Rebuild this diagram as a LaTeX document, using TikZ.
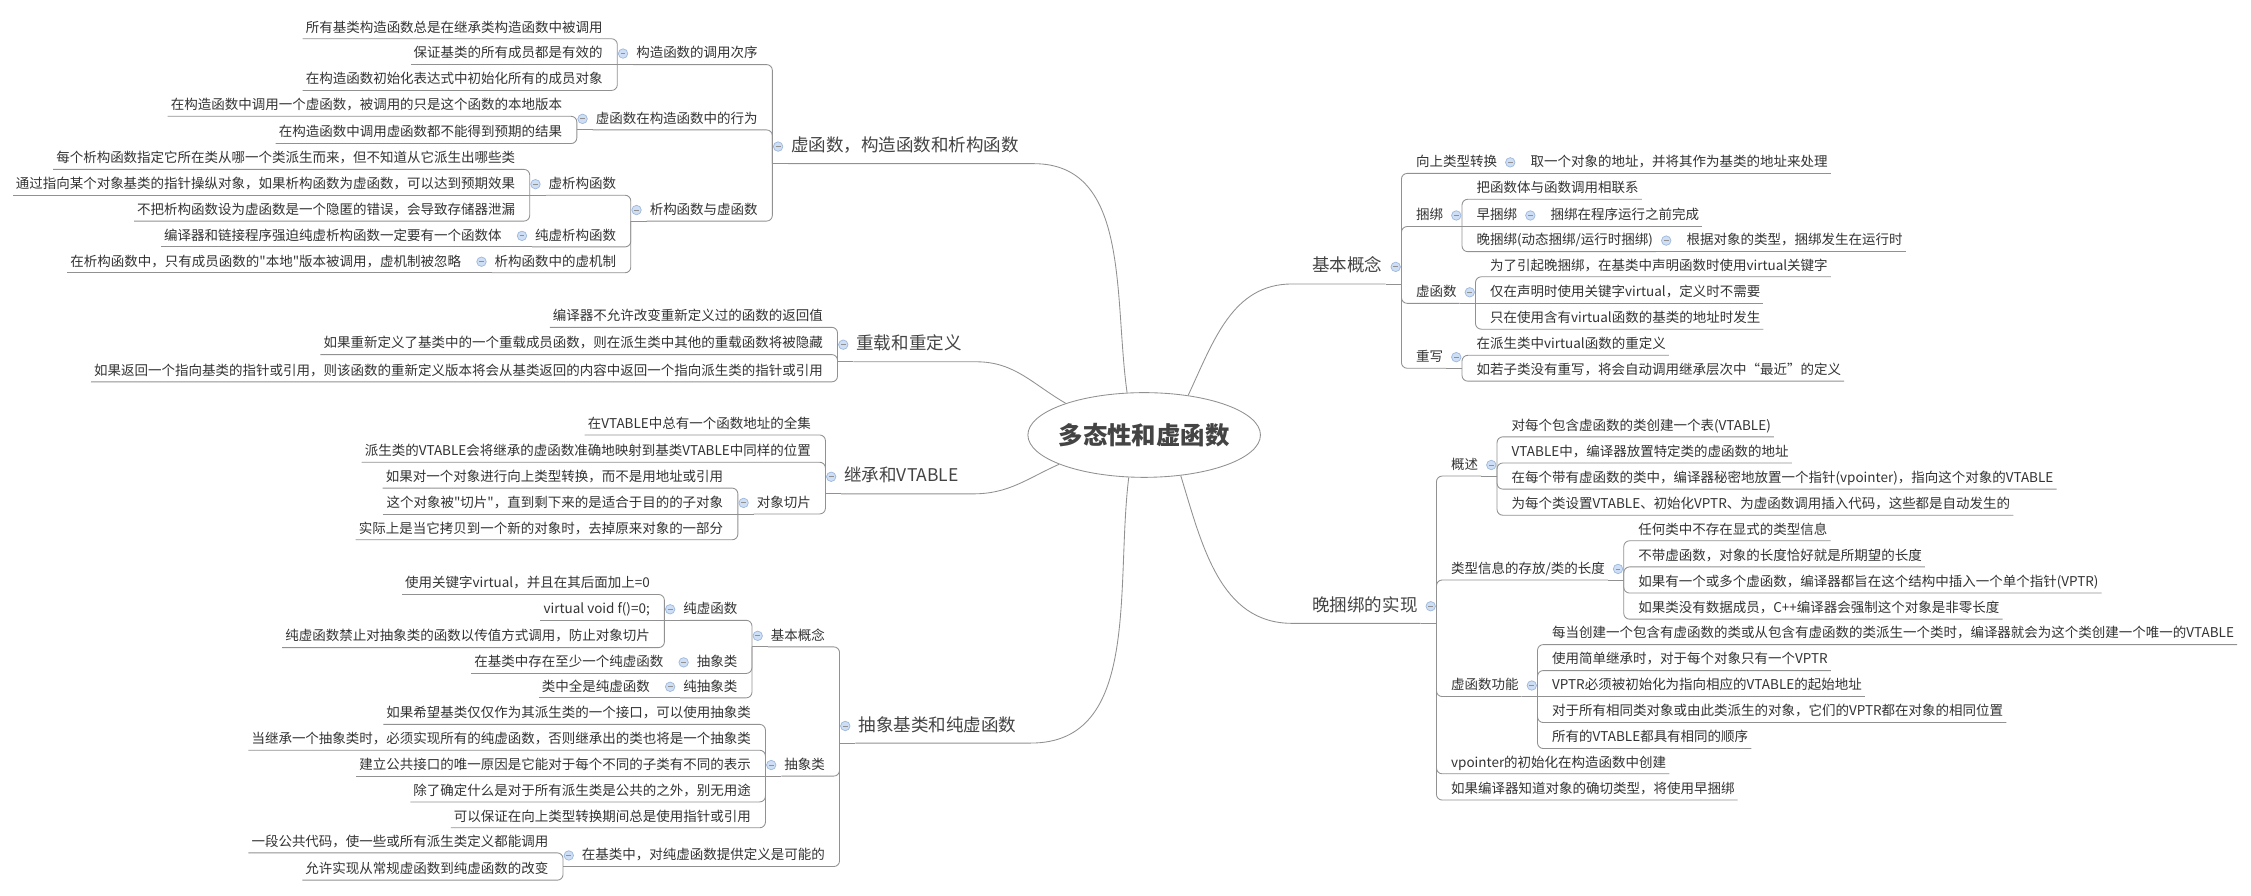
\documentclass[tikz,border=0pt]{standalone}
\usepackage{fontspec}
\setmainfont{Noto Sans CJK SC}[Ligatures=TeXOff]
\usepackage{xcolor}
\usepackage{tikz}
\usetikzlibrary{positioning,calc,shapes.geometric}

\definecolor{linecol}{RGB}{145,145,145}
\definecolor{txtcol}{RGB}{51,51,51}
\definecolor{maincol}{RGB}{68,68,68}
\definecolor{foldfill}{RGB}{205,222,245}
\definecolor{foldline}{RGB}{160,185,220}

\begin{document}
\begin{tikzpicture}[x=1pt,y=1pt,
					topic/.style={font=\fontsize{9.4}{11}\selectfont, text=txtcol,
						text height=8pt, text depth=2pt, inner xsep=2pt, inner ysep=2.5pt},
					lt/.style={topic, anchor=south east},
					rt/.style={topic, anchor=south west},
					mainbranch/.style={font=\fontsize{12.2}{14}\selectfont, text=maincol,
						text height=10pt, text depth=3pt, inner xsep=2pt, inner ysep=5.2pt},
					ml/.style={mainbranch, anchor=south east},
					mr/.style={mainbranch, anchor=south west},
					link/.style={draw=linecol, line width=0.6pt, rounded corners=4pt},
					branch/.style={draw=linecol, line width=0.6pt},
					fold/.style={circle, draw=foldline, fill=foldfill, line width=0.5pt,
						minimum size=6.6pt, inner sep=0pt,
						path picture={\draw[linecol, line width=0.6pt]
							([xshift=-1.7pt]path picture bounding box.center) --
							([xshift=1.7pt]path picture bounding box.center);}}
					]
					\path[use as bounding box, fill=white] (0,0) rectangle (1568,-624);
					
					% 中心主题
					\node[draw=linecol, line width=0.6pt, ellipse, minimum width=162pt, minimum height=59pt,
						inner sep=0pt, font=\fontsize{17}{20}\selectfont\bfseries, text=maincol]
						(root) at (797,-303) {\makebox[60pt]{多态性和虚函数}};
					
					% 左侧：虚函数，构造函数和析构函数
					\node[ml] (vf) at (712,-114) {虚函数，构造函数和析构函数};
					\node[lt] (vfA) at ($(vf.south west)+(-19,69)$) {构造函数的调用次序};
					\node[lt] (vfA1) at ($(vfA.south west)+(-19,18)$) {所有基类构造函数总是在继承类构造函数中被调用};
					\node[lt] (vfA2) at ($(vfA.south west)+(-19,0)$) {保证基类的所有成员都是有效的};
					\node[lt] (vfA3) at ($(vfA.south west)+(-19,-18)$) {在构造函数初始化表达式中初始化所有的成员对象};
					\node[lt] (vfB) at ($(vf.south west)+(-19,23.5)$) {虚函数在构造函数中的行为};
					\node[lt] (vfB1) at ($(vfB.south west)+(-19,9.5)$) {在构造函数中调用一个虚函数，被调用的只是这个函数的本地版本};
					\node[lt] (vfB2) at ($(vfB.south west)+(-19,-9.5)$) {在构造函数中调用虚函数都不能得到预期的结果};
					\node[lt] (vfC) at ($(vf.south west)+(-19,-40)$) {析构函数与虚函数};
					\node[lt] (vfC1) at ($(vfC.south west)+(-19,18)$) {虚析构函数};
					\node[lt] (vfC1a) at ($(vfC1.south west)+(-19,18)$) {每个析构函数指定它所在类从哪一个类派生而来，但不知道从它派生出哪些类};
					\node[lt] (vfC1b) at ($(vfC1.south west)+(-19,0)$) {通过指向某个对象基类的指针操纵对象，如果析构函数为虚函数，可以达到预期效果};
					\node[lt] (vfC1c) at ($(vfC1.south west)+(-19,-18)$) {不把析构函数设为虚函数是一个隐匿的错误，会导致存储器泄漏};
					\node[lt] (vfC2) at ($(vfC.south west)+(-19,-18)$) {纯虚析构函数};
					\node[lt] (vfC2a) at ($(vfC2.south west)+(-19,0)$) {编译器和链接程序强迫纯虚析构函数一定要有一个函数体};
					\node[lt] (vfC3) at ($(vfC.south west)+(-19,-36)$) {析构函数中的虚机制};
					\node[lt] (vfC3a) at ($(vfC3.south west)+(-19,0)$) {在析构函数中，只有成员函数的"本地"版本被调用，虚机制被忽略};
					
					% 左侧：重载和重定义
					\node[ml] (ov) at (672,-252) {重载和重定义};
					\node[lt] (ov1) at ($(ov.south west)+(-19,24)$) {编译器不允许改变重新定义过的函数的返回值};
					\node[lt] (ov2) at ($(ov.south west)+(-19,5)$) {如果重新定义了基类中的一个重载成员函数，则在派生类中其他的重载函数将被隐藏};
					\node[lt] (ov3) at ($(ov.south west)+(-19,-14)$) {如果返回一个指向基类的指针或引用，则该函数的重新定义版本将会从基类返回的内容中返回一个指向派生类的指针或引用};
					
					% 左侧：继承和VTABLE
					\node[ml] (vt) at (670,-344) {继承和VTABLE};
					\node[lt] (vt1) at ($(vt.south west)+(-19,41)$) {在VTABLE中总有一个函数地址的全集};
					\node[lt] (vt2) at ($(vt.south west)+(-19,22)$) {派生类的VTABLE会将继承的虚函数准确地映射到基类VTABLE中同样的位置};
					\node[lt] (vt3) at ($(vt.south west)+(-19,-14)$) {对象切片};
					\node[lt] (vt3a) at ($(vt3.south west)+(-19,18)$) {如果对一个对象进行向上类型转换，而不是用地址或引用};
					\node[lt] (vt3b) at ($(vt3.south west)+(-19,0)$) {这个对象被"切片"，直到剩下来的是适合于目的的子对象};
					\node[lt] (vt3c) at ($(vt3.south west)+(-19,-18)$) {实际上是当它拷贝到一个新的对象时，去掉原来对象的一部分};
					
					% 左侧：抽象基类和纯虚函数
					\node[ml] (ab) at (710,-517.6) {抽象基类和纯虚函数};
					\node[lt] (abA) at ($(ab.south west)+(-19,67)$) {基本概念};
					\node[lt] (abA1) at ($(abA.south west)+(-19,18.5)$) {纯虚函数};
					\node[lt] (abA1a) at ($(abA1.south west)+(-19,18)$) {使用关键字virtual，并且在其后面加上=0};
					\node[lt] (abA1b) at ($(abA1.south west)+(-19,0)$) {virtual void f()=0;};
					\node[lt] (abA1c) at ($(abA1.south west)+(-19,-19)$) {纯虚函数禁止对抽象类的函数以传值方式调用，防止对象切片};
					\node[lt] (abA2) at ($(abA.south west)+(-19,-18.5)$) {抽象类};
					\node[lt] (abA2a) at ($(abA2.south west)+(-19,0)$) {在基类中存在至少一个纯虚函数};
					\node[lt] (abA3) at ($(abA.south west)+(-19,-35.5)$) {纯抽象类};
					\node[lt] (abA3a) at ($(abA3.south west)+(-19,0)$) {类中全是纯虚函数};
					\node[lt] (abB) at ($(ab.south west)+(-19,-23)$) {抽象类};
					\node[lt] (abB1) at ($(abB.south west)+(-19,36)$) {如果希望基类仅仅作为其派生类的一个接口，可以使用抽象类};
					\node[lt] (abB2) at ($(abB.south west)+(-19,18)$) {当继承一个抽象类时，必须实现所有的纯虚函数，否则继承出的类也将是一个抽象类};
					\node[lt] (abB3) at ($(abB.south west)+(-19,0)$) {建立公共接口的唯一原因是它能对于每个不同的子类有不同的表示};
					\node[lt] (abB4) at ($(abB.south west)+(-19,-18)$) {除了确定什么是对于所有派生类是公共的之外，别无用途};
					\node[lt] (abB5) at ($(abB.south west)+(-19,-36)$) {可以保证在向上类型转换期间总是使用指针或引用};
					\node[lt] (abC) at ($(ab.south west)+(-19,-86)$) {在基类中，对纯虚函数提供定义是可能的};
					\node[lt] (abC1) at ($(abC.south west)+(-19,9.5)$) {一段公共代码，使一些或所有派生类定义都能调用};
					\node[lt] (abC2) at ($(abC.south west)+(-19,-9.5)$) {允许实现从常规虚函数到纯虚函数的改变};
					
					% 右侧：基本概念
					\node[mr] (bc) at (912,-197.8) {基本概念};
					\node[rt] (bcA) at ($(bc.south east)+(19,77)$) {向上类型转换};
					\node[rt] (bcA1) at ($(bcA.south east)+(19,0)$) {取一个对象的地址，并将其作为基类的地址来处理};
					\node[rt] (bcB) at ($(bc.south east)+(19,40)$) {捆绑};
					\node[rt] (bcB1) at ($(bcB.south east)+(19,19)$) {把函数体与函数调用相联系};
					\node[rt] (bcB2) at ($(bcB.south east)+(19,0)$) {早捆绑};
					\node[rt] (bcB2a) at ($(bcB2.south east)+(19,0)$) {捆绑在程序运行之前完成};
					\node[rt] (bcB3) at ($(bcB.south east)+(19,-17.5)$) {晚捆绑(动态捆绑/运行时捆绑)};
					\node[rt] (bcB3a) at ($(bcB3.south east)+(19,0)$) {根据对象的类型，捆绑发生在运行时};
					\node[rt] (bcC) at ($(bc.south east)+(19,-13.5)$) {虚函数};
					\node[rt] (bcC1) at ($(bcC.south east)+(19,18.5)$) {为了引起晚捆绑，在基类中声明函数时使用virtual关键字};
					\node[rt] (bcC2) at ($(bcC.south east)+(19,0)$) {仅在声明时使用关键字virtual，定义时不需要};
					\node[rt] (bcC3) at ($(bcC.south east)+(19,-18)$) {只在使用含有virtual函数的基类的地址时发生};
					\node[rt] (bcD) at ($(bc.south east)+(19,-58.7)$) {重写};
					\node[rt] (bcD1) at ($(bcD.south east)+(19,9)$) {在派生类中virtual函数的重定义};
					\node[rt] (bcD2) at ($(bcD.south east)+(19,-9)$) {如若子类没有重写，将会自动调用继承层次中“最近”的定义};
					
					% 右侧：晚捆绑的实现
					\node[mr] (lb) at (912,-434.2) {晚捆绑的实现};
					\node[rt] (lbA) at ($(lb.south east)+(19,102.6)$) {概述};
					\node[rt] (lbA1) at ($(lbA.south east)+(19,27.3)$) {对每个包含虚函数的类创建一个表(VTABLE)};
					\node[rt] (lbA2) at ($(lbA.south east)+(19,9.1)$) {VTABLE中，编译器放置特定类的虚函数的地址};
					\node[rt] (lbA3) at ($(lbA.south east)+(19,-9.1)$) {在每个带有虚函数的类中，编译器秘密地放置一个指针(vpointer)，指向这个对象的VTABLE};
					\node[rt] (lbA4) at ($(lbA.south east)+(19,-27.3)$) {为每个类设置VTABLE、初始化VPTR、为虚函数调用插入代码，这些都是自动发生的};
					\node[rt] (lbB) at ($(lb.south east)+(19,30.2)$) {类型信息的存放/类的长度};
					\node[rt] (lbB1) at ($(lbB.south east)+(19,27.3)$) {任何类中不存在显式的类型信息};
					\node[rt] (lbB2) at ($(lbB.south east)+(19,9.1)$) {不带虚函数，对象的长度恰好就是所期望的长度};
					\node[rt] (lbB3) at ($(lbB.south east)+(19,-9.1)$) {如果有一个或多个虚函数，编译器都旨在这个结构中插入一个单个指针(VPTR)};
					\node[rt] (lbB4) at ($(lbB.south east)+(19,-27.3)$) {如果类没有数据成员，C++编译器会强制这个对象是非零长度};
					\node[rt] (lbC) at ($(lb.south east)+(19,-51)$) {虚函数功能};
					\node[rt] (lbC1) at ($(lbC.south east)+(19,36.2)$) {每当创建一个包含有虚函数的类或从包含有虚函数的类派生一个类时，编译器就会为这个类创建一个唯一的VTABLE};
					\node[rt] (lbC2) at ($(lbC.south east)+(19,18.1)$) {使用简单继承时，对于每个对象只有一个VPTR};
					\node[rt] (lbC3) at ($(lbC.south east)+(19,0)$) {VPTR必须被初始化为指向相应的VTABLE的起始地址};
					\node[rt] (lbC4) at ($(lbC.south east)+(19,-18.1)$) {对于所有相同类对象或由此类派生的对象，它们的VPTR都在对象的相同位置};
					\node[rt] (lbC5) at ($(lbC.south east)+(19,-36.2)$) {所有的VTABLE都具有相同的顺序};
					\node[rt] (lbD) at ($(lb.south east)+(19,-104.8)$) {vpointer的初始化在构造函数中创建};
					\node[rt] (lbE) at ($(lb.south east)+(19,-123.1)$) {如果编译器知道对象的确切类型，将使用早捆绑};
					
					% 中心到主分支
					\draw[branch] (root.112) to[out=98,in=0] ($(vf.south east)+(8,0)$) -- (vf.south west);
					\draw[branch] (root.158) to[out=150,in=0] ($(ov.south east)+(8,0)$) -- (ov.south west);
					\draw[branch] (root.199) to[out=204,in=0] ($(vt.south east)+(8,0)$) -- (vt.south west);
					\draw[branch] (root.250) to[out=263,in=0] ($(ab.south east)+(8,0)$) -- (ab.south west);
					\draw[branch] (root.42) to[out=65,in=180] ($(bc.south west)+(-12,0)$) -- (bc.south east);
					\draw[branch] (root.312) to[out=287,in=180] ($(lb.south west)+(-12,0)$) -- (lb.south east);
					
					% 左侧连线
					\foreach \p/\c in {vf/vfA, vf/vfB, vf/vfC, vfA/vfA1, vfA/vfA3, vfB/vfB1, vfB/vfB2,
						vfC/vfC1, vfC/vfC2, vfC/vfC3, vfC1/vfC1a, vfC1/vfC1c, ov/ov1, ov/ov2, ov/ov3,
						vt/vt1, vt/vt2, vt/vt3, vt3/vt3a, vt3/vt3c, ab/abA, ab/abB, ab/abC,
						abA/abA1, abA/abA2, abA/abA3, abA1/abA1a, abA1/abA1c,
						abB/abB1, abB/abB2, abB/abB4, abB/abB5, abC/abC1, abC/abC2}
						\draw[link] ($(\p.south west)+(-11,0)$) |- (\c.south east) -- (\c.south west);
					\foreach \p/\c in {vfA/vfA2, vfC1/vfC1b, vfC2/vfC2a, vfC3/vfC3a, vt3/vt3b,
						abA1/abA1b, abA2/abA2a, abA3/abA3a, abB/abB3}
						\draw[link] ($(\p.south west)+(-11,0)$) -- (\c.south west);
					
					% 右侧连线
					\foreach \p/\c in {bc/bcA, bc/bcB, bc/bcC, bc/bcD, bcB/bcB1, bcB/bcB3, bcC/bcC1, bcC/bcC3,
						bcD/bcD1, bcD/bcD2, lb/lbA, lb/lbB, lb/lbC, lb/lbD, lb/lbE,
						lbA/lbA1, lbA/lbA2, lbA/lbA3, lbA/lbA4, lbB/lbB1, lbB/lbB2, lbB/lbB3, lbB/lbB4,
						lbC/lbC1, lbC/lbC2, lbC/lbC4, lbC/lbC5}
						\draw[link] ($(\p.south east)+(11,0)$) |- (\c.south west) -- (\c.south east);
					\foreach \p/\c in {bcA/bcA1, bcB/bcB2, bcB2/bcB2a, bcB3/bcB3a, bcC/bcC2, lbC/lbC3}
						\draw[link] ($(\p.south east)+(11,0)$) -- (\c.south east);
					
					% 折叠图标
					\foreach \p in {vf,vfA,vfB,vfC,vfC1,vfC2,vfC3,ov,vt,vt3,ab,abA,abA1,abA2,abA3,abB,abC} {
						\draw[link] (\p.south west) -- ++(-11,0);
						\node[fold] (\p-f) at ($(\p.west)+(-7,0)$) {};
					}
					\foreach \p in {bc,bcA,bcB,bcB2,bcB3,bcC,bcD,lb,lbA,lbB,lbC} {
						\draw[link] (\p.south east) -- ++(11,0);
						\node[fold] (\p-f) at ($(\p.east)+(7,0)$) {};
					}
				\end{tikzpicture}
\end{document}
